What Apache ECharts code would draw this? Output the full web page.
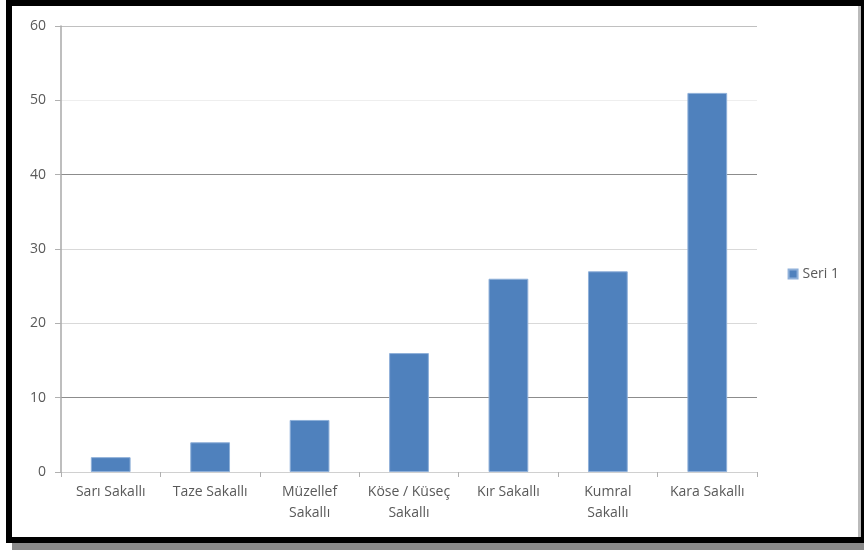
<!DOCTYPE html>
<html><head><meta charset="utf-8">
<script src="https://cdn.jsdelivr.net/npm/echarts@6/dist/echarts.min.js"></script>
<style>
html,body{margin:0;padding:0;background:#fff;width:864px;height:550px;overflow:hidden;}
#chart{position:absolute;left:0;top:0;width:864px;height:550px;}
.f{position:absolute;pointer-events:none;}
</style></head><body>
<div id="chart"></div>
<div class="f" style="left:6px;top:0;width:858px;height:6px;background:#000"></div>
<div class="f" style="left:6px;top:0;width:6px;height:543px;background:#000"></div>
<div class="f" style="left:6px;top:537px;width:858px;height:6px;background:#000"></div>
<div class="f" style="left:861px;top:0;width:3px;height:543px;background:#000"></div>
<div class="f" style="left:858px;top:6px;width:3px;height:531px;background:#bbb"></div>
<div class="f" style="left:12px;top:543px;width:852px;height:7px;background:#8a8a8a"></div>
<script>
var categories = ['Sarı Sakallı', 'Taze Sakallı', 'Müzellef\nSakallı', 'Köse / Küseç\nSakallı', 'Kır Sakallı', 'Kumral\nSakallı', 'Kara Sakallı'];
var seriesName = 'Seri 1';
var values = [2, 4, 7, 16, 26, 27, 51];
var yTicks = [0, 10, 20, 30, 40, 50, 60];

var chart = echarts.init(document.getElementById('chart'));
var font = '"Open Sans", sans-serif';
chart.setOption({
  animation: false,
  backgroundColor: 'transparent',
  grid: {left: 61, top: 26, right: 107, bottom: 78, containLabel: false},
  legend: {
    data: [seriesName], orient: 'vertical', right: 20, top: 262,
    icon: 'rect', itemWidth: 9, itemHeight: 9, itemGap: 4,
    textStyle: {color: '#595959', fontSize: 14, fontFamily: font}
  },
  xAxis: {
    type: 'category', data: categories,
    axisLine: {lineStyle: {color: '#d0d0d0', width: 1}},
    axisTick: {show: true, length: 5, lineStyle: {color: '#b0b0b0'}},
    axisLabel: {color: '#595959', fontSize: 14, fontFamily: font, margin: 10, lineHeight: 21, interval: 0}
  },
  yAxis: {
    type: 'value', min: yTicks[0], max: yTicks[yTicks.length - 1], interval: 10,
    axisLine: {show: true, lineStyle: {color: '#a8a8a8', width: 1.5}},
    axisTick: {show: true, length: 6, lineStyle: {color: '#b0b0b0'}},
    axisLabel: {color: '#595959', fontSize: 14, fontFamily: font, margin: 15},
    splitLine: {show: true, lineStyle: {width: 1.2, color: ['#dddddd', '#8c8c8c', '#d9d9d9', '#d9d9d9', '#8c8c8c', '#eeeeee', '#c0c0c0']}}
  },
  series: [{
    name: seriesName, type: 'bar', data: values, barWidth: '40%',
    itemStyle: {color: '#4f81bd', borderColor: '#8fb0d9', borderWidth: 1}
  }]
});
</script>
</body></html>
